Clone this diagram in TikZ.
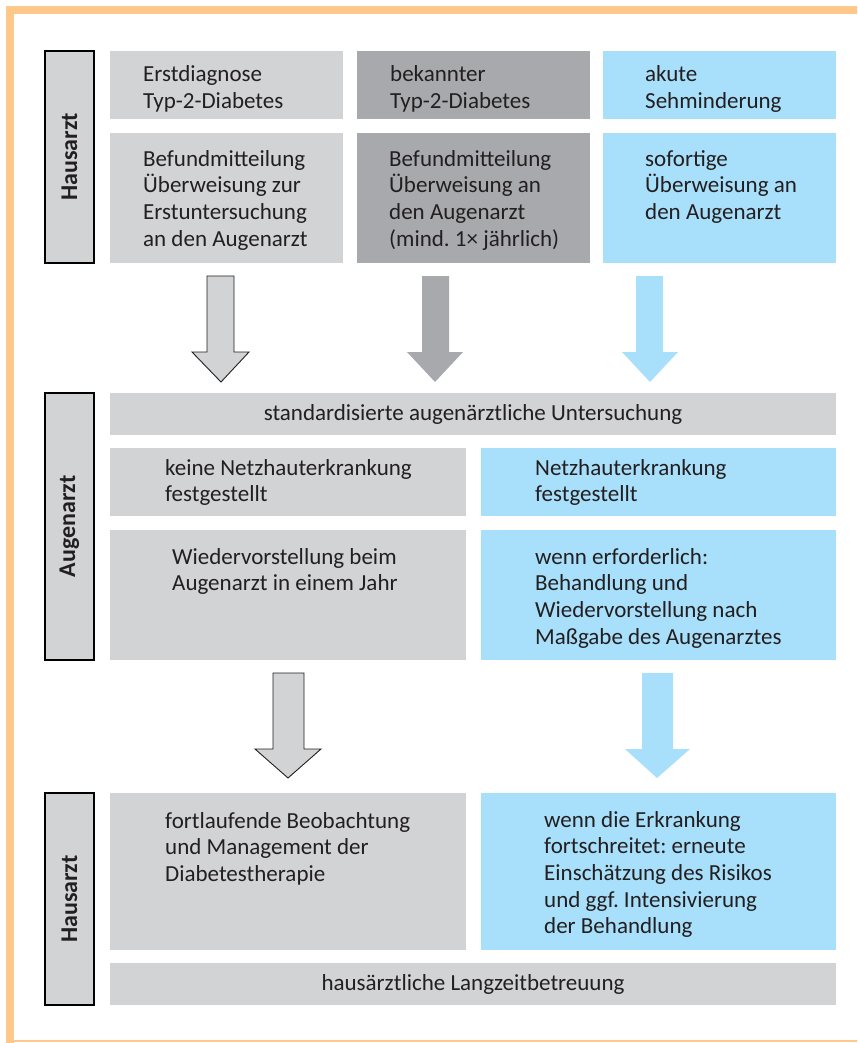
\documentclass[tikz,border=0pt]{standalone}
\usepackage{fontspec}
\setmainfont{Carlito}
\usetikzlibrary{calc}
\definecolor{lg}{RGB}{209,211,212}
\definecolor{dg}{RGB}{167,169,172}
\definecolor{lb}{RGB}{168,223,250}
\definecolor{org}{RGB}{253,200,138}
\definecolor{txt}{RGB}{35,31,32}
\frenchspacing
\begin{document}
\frenchspacing
\begin{tikzpicture}[x=1pt,y=-1pt,
  box/.style={draw=none, inner sep=0pt, outer sep=0pt, anchor=north west},
  side/.style={draw=black, line width=1.2pt, fill=lg, inner sep=0pt, outer sep=0pt, anchor=north west, minimum width=49pt},
  lbl/.style={inner sep=0pt, anchor=base west, align=left, text=txt, font=\fontsize{23}{26.7}\selectfont\frenchspacing},
  clbl/.style={inner sep=0pt, anchor=center, text=txt, font=\fontsize{23}{26.7}\selectfont},
  slbl/.style={inner sep=0pt, anchor=center, rotate=90, text=txt, font=\fontsize{24}{28}\selectfont\bfseries},
  arrlight/.style={fill=lg, draw=txt, line width=0.9pt, line join=miter},
  arrdark/.style={fill=dg, draw=none},
  arrblue/.style={fill=lb, draw=none}]
\useasboundingbox (0,0) rectangle (857,1043);
% orange frame
\fill[org] (6,6) rectangle (857,14);
\fill[org] (6,6) rectangle (14,1043);
\fill[org] (6,1040) rectangle (857,1042);

% side bars
\node[side, minimum height=212pt] (s1) at (45,51) {};
\node[side, minimum height=267pt] (s2) at (45,393) {};
\node[side, minimum height=212pt] (s3) at (45,793) {};
\node[slbl] at (s1.center) {Hausarzt};
\node[slbl] at (s2.center) {Augenarzt};
\node[slbl] at (s3.center) {Hausarzt};

% top section
\node[box, fill=lg, minimum width=233pt, minimum height=68pt] (b11) at (110,51) {};
\node[box, fill=dg, minimum width=233pt, minimum height=68pt] (b12) at (357,51) {};
\node[box, fill=lb, minimum width=233pt, minimum height=68pt] (b13) at (603,51) {};
\node[box, fill=lg, minimum width=233pt, minimum height=130pt] (b21) at (110,133) {};
\node[box, fill=dg, minimum width=233pt, minimum height=130pt] (b22) at (357,133) {};
\node[box, fill=lb, minimum width=233pt, minimum height=130pt] (b23) at (603,133) {};

\node[lbl] (t11) at ($(b11.north west)+(33,57.7)$) {Erstdiagnose\\Typ-2-Diabetes};
\node[lbl] (t12) at ($(b12.north west)+(33,57.7)$) {bekannter\\Typ-2-Diabetes};
\node[lbl] (t13) at ($(b13.north west)+(42,57.7)$) {akute\\Sehminderung};
\node[lbl] (t21) at ($(b21.north west)+(33,113.1)$) {Befundmitteilung\\Überweisung zur\\Erstuntersuchung\\an den Augenarzt};
\node[lbl] (t22) at ($(b22.north west)+(32,113.1)$) {Befundmitteilung\\Überweisung an\\den Augenarzt\\(mind.\ 1× jährlich)};
\node[lbl] (t23) at ($(b23.north west)+(42,86.4)$) {sofortige\\Überweisung an\\den Augenarzt};

% arrows 1
\draw[arrlight] (207,276) -- (234,276) -- (234,352) -- (249,352) -- (221,382) -- (192,352) -- (207,352) -- cycle;
\fill[dg] (422,276) -- (449,276) -- (449,352) -- (463,352) -- (435,382) -- (407,352) -- (422,352) -- cycle;
\fill[lb] (636,276) -- (663,276) -- (663,352) -- (678,352) -- (650,382) -- (622,352) -- (636,352) -- cycle;

% middle section
\node[box, fill=lg, minimum width=726pt, minimum height=42pt] (std) at (110,393) {};
\node[clbl] at (std.center) {standardisierte augenärztliche Untersuchung};
\node[box, fill=lg, minimum width=356pt, minimum height=68pt] (m11) at (110,448) {};
\node[box, fill=lb, minimum width=355pt, minimum height=68pt] (m12) at (481,448) {};
\node[box, fill=lg, minimum width=356pt, minimum height=130pt] (m21) at (110,530) {};
\node[box, fill=lb, minimum width=355pt, minimum height=130pt] (m22) at (481,530) {};
\node[lbl] at ($(m11.north west)+(55,53.7)$) {keine Netzhauterkrankung\\festgestellt};
\node[lbl] at ($(m12.north west)+(54,53.7)$) {Netzhauterkrankung\\festgestellt};
\node[lbl] at ($(m21.north west)+(62,60.7)$) {Wiedervorstellung beim\\Augenarzt in einem Jahr};
\node[lbl] at ($(m22.north west)+(54,114.1)$) {wenn erforderlich:\\Behandlung und\\Wiedervorstellung nach\\Maßgabe des Augenarztes};

% arrows 2
\draw[arrlight] (273,673) -- (304,673) -- (304,749) -- (321,749) -- (288,778) -- (255,749) -- (273,749) -- cycle;
\fill[lb] (642,673) -- (673,673) -- (673,749) -- (690,749) -- (657,778) -- (625,749) -- (642,749) -- cycle;

% bottom section
\node[box, fill=lg, minimum width=356pt, minimum height=157pt] (u11) at (110,793) {};
\node[box, fill=lb, minimum width=355pt, minimum height=157pt] (u12) at (481,793) {};
\node[lbl] at ($(u11.north west)+(55,88.4)$) {fortlaufende Beobachtung\\und Management der\\Diabetestherapie};
\node[lbl] at ($(u12.north west)+(63,140.8)$) {wenn die Erkrankung\\fortschreitet:\ erneute\\Einschätzung des Risikos\\und ggf.\ Intensivierung\\der Behandlung};
\node[box, fill=lg, minimum width=726pt, minimum height=42pt] (hz) at (110,963) {};
\node[clbl] at (hz.center) {hausärztliche Langzeitbetreuung};
\end{tikzpicture}
\end{document}
